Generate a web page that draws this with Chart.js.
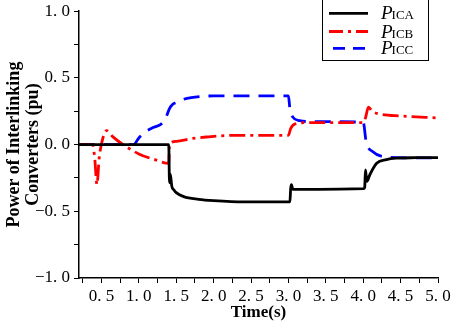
<!DOCTYPE html>
<html>
<head>
<meta charset="utf-8">
<script src="https://cdn.jsdelivr.net/npm/chart.js@4"></script>
<style>
  html, body { margin: 0; padding: 0; background: #fff; }
  #wrap { width: 457px; height: 327px; }
</style>
</head>
<body>
<div id="wrap"><canvas id="chart"></canvas></div>
<script>
// ── Data ──────────────────────────────────────────────────────────────────
const seriesNames = ['ICA', 'ICB', 'ICC'];

const timeA = [0.2, 1.40, 1.41, 1.42, 1.44, 1.47, 1.5, 1.6, 1.8, 2.0, 2.4, 3.02, 3.03, 3.04, 3.06, 3.3, 4.01,
               4.02, 4.03, 4.05, 4.09, 4.18, 4.31, 4.44, 4.7, 5.0];
const pICA  = [0, 0, -0.285, -0.22, -0.31, -0.34, -0.36, -0.39, -0.41, -0.42, -0.43, -0.43, -0.33, -0.30, -0.335, -0.335, -0.33,
               -0.32, -0.19, -0.275, -0.224, -0.14, -0.113, -0.102, -0.098, -0.097];

const timeB = [0.2, 0.38, 0.41, 0.44, 0.47, 0.52, 0.57, 0.65, 0.79, 1.0, 1.2, 1.40, 1.41, 1.5, 1.7, 1.9, 2.3, 3.0,
               3.03, 3.09, 3.3, 4.0, 4.03, 4.07, 4.12, 4.22, 4.5, 5.0];
const pICB  = [0, 0, -0.1, -0.3, -0.1, 0.05, 0.105, 0.06, 0.0, -0.07, -0.11, -0.14, 0.0, 0.025, 0.045, 0.057, 0.07, 0.07,
               0.12, 0.155, 0.165, 0.165, 0.2, 0.28, 0.25, 0.23, 0.215, 0.2];

const timeC = [0.2, 0.93, 1.0, 1.1, 1.2, 1.3, 1.36, 1.41, 1.45, 1.5, 1.6, 1.7, 1.85, 2.0, 3.0, 3.02, 3.06, 3.15, 3.32,
               4.0, 4.04, 4.13, 4.26, 4.49, 5.0];
const pICC  = [0, 0, 0.05, 0.1, 0.13, 0.155, 0.2, 0.27, 0.3, 0.315, 0.34, 0.353, 0.362, 0.365, 0.365, 0.27, 0.205, 0.18, 0.172,
               0.168, 0.02, -0.054, -0.09, -0.098, -0.1];

const xTicks = [0.25, 0.5, 0.75, 1.0, 1.25, 1.5, 1.75, 2.0, 2.25, 2.5, 2.75, 3.0, 3.25, 3.5, 3.75, 4.0, 4.25, 4.5, 4.75, 5.0];
const yTicks = [-1.0, -0.75, -0.5, -0.25, 0, 0.25, 0.5, 0.75, 1.0];

// ── Helpers ───────────────────────────────────────────────────────────────
const SERIF = "'Liberation Serif', 'DejaVu Serif', serif";
const COLORS = ['#000000', '#ff0000', '#0000ff'];
const DASHES = [[], [16, 5, 3, 5], [16, 9]];

const pts = (ts, vs) => ts.map((t, i) => ({ x: t, y: vs[i] }));

// "0. 5" style labels, only on the half units
function tickLabel(v) {
  if (Math.abs(v * 2 - Math.round(v * 2)) > 1e-6) return '';
  return v.toFixed(1).replace('.', '. ').replace('-', '\u2212');
}

// legend box drawn by hand (boxed, P + small caps label)
const boxLegend = {
  id: 'boxLegend',
  afterDraw(chart) {
    const ctx = chart.ctx;
    ctx.save();
    ctx.strokeStyle = '#000';
    ctx.lineWidth = 1;
    ctx.strokeRect(322.5, -1, 106, 61.5);
    const rows = [13.3, 31.5, 48.3];
    const starts = [329, 329, 333];
    seriesNames.forEach((name, i) => {
      const y = rows[i];
      ctx.setLineDash(i === 1 ? [14, 5, 3, 5] : i === 2 ? [12, 8] : []);
      ctx.strokeStyle = COLORS[i];
      ctx.lineWidth = 2.8;
      ctx.beginPath();
      ctx.moveTo(starts[i], y);
      ctx.lineTo(368, y);
      ctx.stroke();
      ctx.setLineDash([]);
      ctx.fillStyle = '#000';
      ctx.textBaseline = 'alphabetic';
      ctx.textAlign = 'left';
      ctx.font = `italic 19px ${SERIF}`;
      ctx.fillText('P', 381, y + 6);
      const w = ctx.measureText('P').width;
      ctx.font = `13px ${SERIF}`;
      ctx.fillText(name, 381 + w - 1, y + 6);
    });
    ctx.restore();
  }
};

// ── Chart ─────────────────────────────────────────────────────────────────
const datasets = [[timeA, pICA], [timeB, pICB], [timeC, pICC]].map(([ts, vs], i) => ({
  label: 'P' + seriesNames[i],
  data: pts(ts, vs),
  borderColor: COLORS[i],
  borderWidth: 2.8,
  borderDash: DASHES[i],
  pointRadius: 0,
  fill: false,
  cubicInterpolationMode: 'monotone',
}));

new Chart(document.getElementById('chart'), {
  type: 'line',
  data: { datasets },
  options: {
    responsive: true, maintainAspectRatio: false, animation: false,
    devicePixelRatio: 1,
    layout: { padding: { left: 0, right: 19, top: 7, bottom: 0 } },
    plugins: { legend: { display: false }, tooltip: { enabled: false } },
    scales: {
      x: {
        type: 'linear', min: 0.2, max: 5.0,
        afterBuildTicks: s => { s.ticks = xTicks.map(v => ({ value: v })); },
        afterFit: s => { s.height = 49; },
        ticks: { callback: tickLabel, color: '#000', font: { family: SERIF, size: 17 }, maxRotation: 0, autoSkip: false, padding: 3 },
        grid: { drawOnChartArea: false, color: '#000', tickLength: 5, tickWidth: 1 },
        border: { color: '#000', width: 1.5 },
        title: { display: true, text: 'Time(s)', color: '#000', font: { family: SERIF, size: 17, weight: 'bold' }, padding: { top: 0, bottom: 4 } },
      },
      y: {
        min: -1, max: 1,
        afterBuildTicks: s => { s.ticks = yTicks.map(v => ({ value: v })); },
        afterFit: s => { s.width = 79; },
        ticks: { callback: tickLabel, color: '#000', font: { family: SERIF, size: 17, lineHeight: 0.85 }, autoSkip: false, padding: 4 },
        grid: { drawOnChartArea: false, color: '#000', tickLength: 5, tickWidth: 1 },
        border: { color: '#000', width: 1.5 },
        title: {
          display: true, text: ['Power of Interlinking', 'Converters (pu)'], color: '#000',
          font: { family: SERIF, size: 18, weight: 'bold', lineHeight: 1.05 }, padding: { top: 4.5, bottom: 0 },
        },
      },
    },
  },
  plugins: [boxLegend],
});
</script>
</body>
</html>
